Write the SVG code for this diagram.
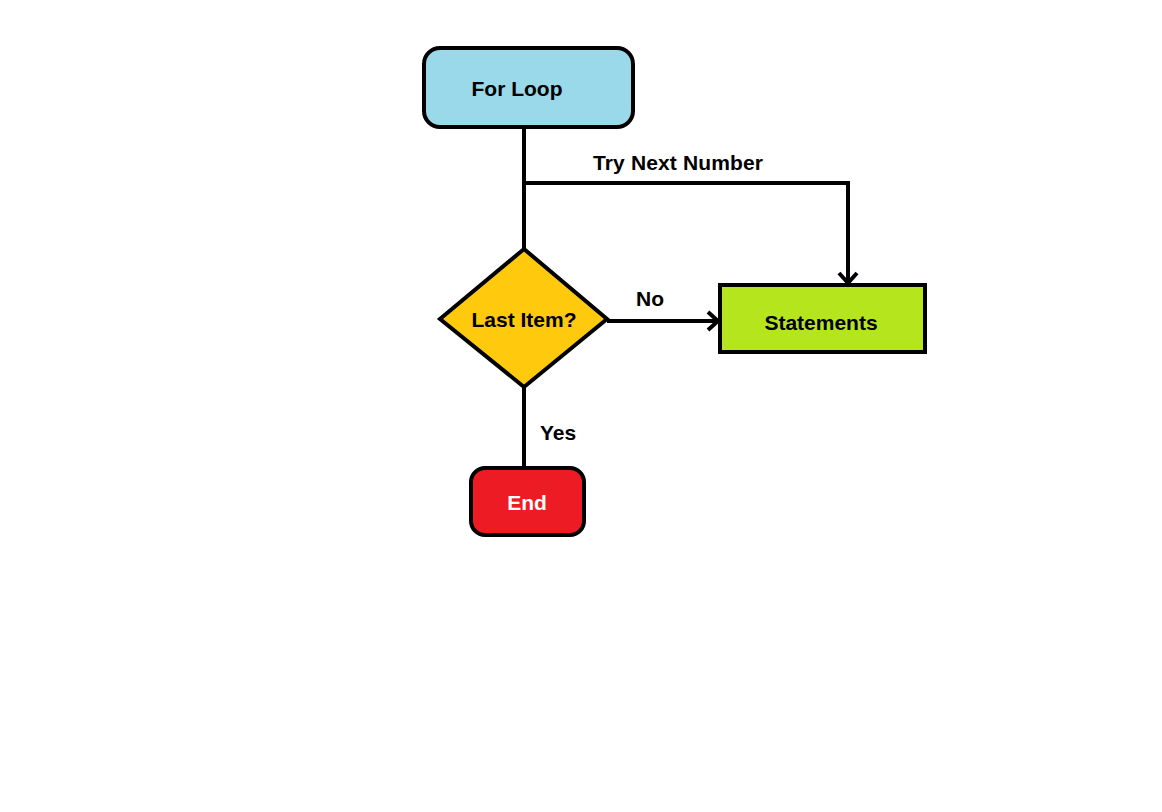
<svg xmlns="http://www.w3.org/2000/svg" width="1162" height="812" viewBox="0 0 1162 812">
<defs>
<style>
.n{stroke:#000;stroke-width:4}
.t{font-family:"Liberation Sans",Arial,sans-serif;font-weight:bold;font-size:21px;fill:#000}
.c{fill:none;stroke:#000;stroke-width:4}
</style>
<marker id="arr" viewBox="0 0 20 22" refX="14" refY="11" markerWidth="20" markerHeight="22" markerUnits="userSpaceOnUse" orient="auto">
<path d="M4,2 L14,11 L4,20" fill="none" stroke="#000" stroke-width="4"/>
</marker>
</defs>
<rect width="1162" height="812" fill="#fff"/>
<g id="connectors">
<line class="c" x1="524" y1="127" x2="524" y2="250"/>
<polyline class="c" points="524,183 848,183 848,283" marker-end="url(#arr)"/>
<line class="c" x1="607" y1="321" x2="718" y2="321" marker-end="url(#arr)"/>
<line class="c" x1="524" y1="387" x2="524" y2="468"/>
<text class="t" x="593" y="170" textLength="170">Try Next Number</text>
<text class="t" x="636" y="306">No</text>
<text class="t" x="540" y="440">Yes</text>
</g>
<g id="forloop">
<rect class="n" x="424" y="48" width="209" height="79" rx="16" fill="#99D9EA"/>
<text class="t" x="517" y="96" text-anchor="middle">For Loop</text>
</g>
<g id="lastitem">
<polygon class="n" points="524,249 607,319 524,387 440,319" fill="#FFC90E"/>
<text class="t" x="524" y="327" text-anchor="middle">Last Item?</text>
</g>
<g id="statements">
<rect class="n" x="720" y="285" width="205" height="67" fill="#B5E61D"/>
<text class="t" x="821" y="330" text-anchor="middle">Statements</text>
</g>
<g id="end">
<rect class="n" x="471" y="468" width="113" height="67" rx="14" fill="#ED1C24"/>
<text class="t" x="527" y="510" text-anchor="middle" style="fill:#fff">End</text>
</g>
</svg>
